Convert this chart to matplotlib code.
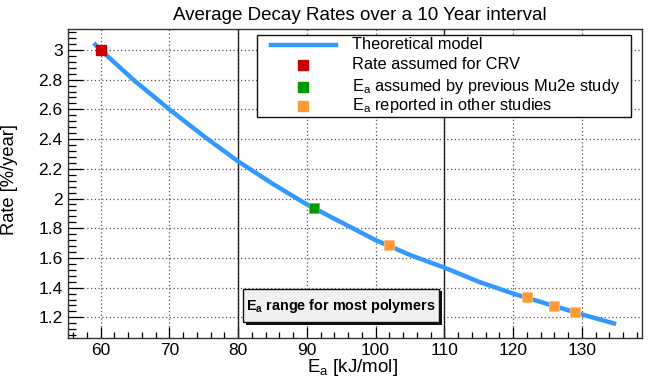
import matplotlib
matplotlib.use("Agg")
import matplotlib.pyplot as plt
from matplotlib.patches import Rectangle
from matplotlib.lines import Line2D
from matplotlib.ticker import MultipleLocator

plt.rcParams['font.family'] = ['Liberation Sans', 'DejaVu Sans']
plt.rcParams['mathtext.fontset'] = 'custom'
plt.rcParams['mathtext.rm'] = 'Liberation Sans'
plt.rcParams['mathtext.it'] = 'Liberation Sans:italic'
plt.rcParams['mathtext.bf'] = 'Liberation Sans:bold'
plt.rcParams['mathtext.default'] = 'regular'

# ---- data ----
model_ea = [59, 60, 65, 70, 75, 80, 85, 90, 95, 100, 105, 110, 115, 120, 125, 130, 135]
model_rate = [3.047, 3.00, 2.79, 2.60, 2.42, 2.25, 2.10, 1.96, 1.84, 1.72, 1.62, 1.535,
              1.44, 1.36, 1.29, 1.22, 1.155]

crv_ea = [60]
crv_rate = [3.00]
mu2e_ea = [91]
mu2e_rate = [1.934]
other_ea = [102, 122, 126, 129]
other_rate = [1.684, 1.334, 1.276, 1.235]

range_lo, range_hi = 80, 110

title = "Average Decay Rates over a 10 Year interval"
xlabel = r"E$_a$ [kJ/mol]"
ylabel = "Rate [%/year]"
labels = ["Theoretical model", "Rate assumed for CRV",
          r"E$_a$ assumed by previous Mu2e study", r"E$_a$ reported in other studies"]
box_text = r"$\mathbf{E_a}$ range for most polymers"

c_line = '#3399ff'
c_red = '#cc0000'
c_green = '#009900'
c_orange = '#ff9933'

W, H = 661, 379
fig = plt.figure(figsize=(W / 100, H / 100), dpi=100)
AX_L, AX_R, AX_T, AX_B = 68.3, 642.3, 29.3, 337.7
ax = fig.add_axes([AX_L / W, 1 - AX_B / H, (AX_R - AX_L) / W, (AX_B - AX_T) / H])


def fx(px):
    return (px - AX_L) / (AX_R - AX_L)


def fy(py):
    return (AX_B - py) / (AX_B - AX_T)


ax.set_xlim(55.3, 138.8)
ax.set_ylim(1.063, 3.139)

ax.xaxis.set_major_locator(MultipleLocator(10))
ax.xaxis.set_minor_locator(MultipleLocator(2))
ax.yaxis.set_minor_locator(MultipleLocator(0.04))
ax.tick_params(which='both', direction='in', top=False, right=False, labelsize=12.5, width=0.9)
ax.tick_params(axis='x', which='major', length=8, pad=4)
ax.tick_params(axis='x', which='minor', length=4)
ax.tick_params(axis='y', which='major', length=11, pad=4)
ax.tick_params(axis='y', which='minor', length=6)
ax.set_yticks([1.2, 1.4, 1.6, 1.8, 2.0, 2.2, 2.4, 2.6, 2.8, 3.0])
ax.set_yticklabels(['1.2', '1.4', '1.6', '1.8', '2', '2.2', '2.4', '2.6', '2.8', '3'])

ax.grid(True, which='major', linestyle=(0, (1, 2)), color='#555555', linewidth=0.9)
for s in ax.spines.values():
    s.set_linewidth(1.0)
    s.set_color('#333333')

ax.axvline(range_lo, color='#222222', linewidth=1.0, zorder=2)
ax.axvline(range_hi, color='#222222', linewidth=1.0, zorder=2)

ax.plot(model_ea, model_rate, color=c_line, linewidth=3.2, zorder=3, solid_capstyle='butt')
ax.plot(crv_ea, crv_rate, 's', color=c_red, markersize=7, markeredgecolor=c_red, zorder=4)
ax.plot(mu2e_ea, mu2e_rate, 's', color=c_green, markersize=7, markeredgecolor='#66bb66',
        markeredgewidth=0.6, zorder=4)
ax.plot(other_ea, other_rate, 's', color=c_orange, markersize=7, markeredgecolor='#ffc080',
        markeredgewidth=0.6, zorder=4)

# range box with shadow
bx0, bx1, by0, by1 = 80.75, 109.2, 1.166, 1.390
dx, dy = 0.45, -0.016
ax.add_patch(Rectangle((bx0 + dx, by0 + dy), bx1 - bx0, by1 - by0, facecolor='#111111',
                       edgecolor='none', zorder=5))
ax.add_patch(Rectangle((bx0, by0), bx1 - bx0, by1 - by0, facecolor='#f0f0f0',
                       edgecolor='#111111', linewidth=1.0, zorder=6))
ax.text((bx0 + bx1) / 2, (by0 + by1) / 2, box_text, ha='center', va='center',
        fontsize=10.4, fontweight='bold', zorder=7)

# legend (drawn as a box in axes coordinates)
tr = ax.transAxes
ax.add_patch(Rectangle((fx(257.3), fy(117.3)), fx(631) - fx(257.3), fy(35) - fy(117.3),
                       transform=tr, facecolor='white', edgecolor='#111111', linewidth=1.0,
                       zorder=8))
rows_y = [45, 65, 86.7, 106]
ax.add_line(Line2D([fx(270.7), fx(336)], [fy(rows_y[0])] * 2, transform=tr, color=c_line,
                   linewidth=3.2, zorder=9))
for yy, col in zip(rows_y[1:], [c_red, c_green, c_orange]):
    ax.add_line(Line2D([fx(303)], [fy(yy)], transform=tr, marker='s', linestyle='none',
                       color=col, markersize=7, zorder=9))
for yy, lab in zip(rows_y, labels):
    ax.text(fx(351.7), fy(yy), lab, transform=tr, ha='left', va='center', fontsize=11.8,
            zorder=9)

fig.text(360 / W, 1 - 15 / H, title, ha='center', va='center', fontsize=13.5)
ax.set_xlabel(xlabel, fontsize=13.5)
ax.set_ylabel(ylabel, fontsize=13.2)
ax.xaxis.set_label_coords(fx(352), fy(368))
ax.xaxis.label.set_verticalalignment('center')
ax.yaxis.set_label_coords(fx(10), fy(180))
ax.yaxis.label.set_verticalalignment('center')

fig.savefig('out.png', dpi=100)
